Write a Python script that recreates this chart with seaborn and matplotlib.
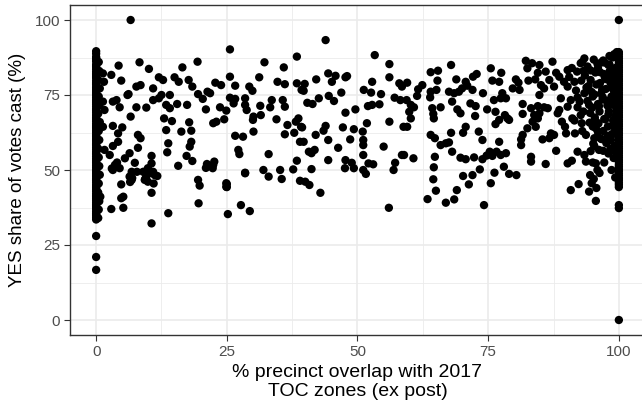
import matplotlib
matplotlib.use("Agg")
import matplotlib.pyplot as plt
import seaborn as sns
import pandas as pd
import numpy as np

# Precincts with partial overlap (% overlap, % YES)
overlap_mid = [
    6.6, 8.3, 4.3, 10.1, 2.9, 1.3, 4.8, 1.5, 12.0, 12.8, 15.0, 15.8, 16.5, 19.4, 17.7, 18.4,
    19.5, 8.5, 7.7, 10.9, 6.2, 6.0, 12.5, 14.1, 10.9, 12.0, 13.4, 15.5, 17.4, 3.2, 3.9, 4.5,
    1.3, 7.7, 9.6, 14.1, 6.6, 1.6, 13.0, 14.5, 17.8, 16.3, 13.4, 18.2, 3.2, 5.0, 1.3, 4.2,
    8.0, 8.5, 13.8, 18.2, 17.9, 13.6, 8.0, 4.2, 3.2, 1.6, 2.6, 6.4, 5.5, 10.6, 17.3, 18.4,
    15.7, 7.4, 3.6, 3.2, 4.5, 6.8, 9.0, 9.9, 10.6, 10.9, 9.6, 9.9, 11.2, 6.8, 6.4, 9.3,
    4.8, 10.6, 5.2, 4.8, 2.9, 5.2, 13.8, 19.5, 19.8, 19.6, 10.6, 25.2, 27.7, 29.4, 28.5,
    0.8, 3.0, 4.0, 6.5, 6.9, 7.8, 9.4, 10.2, 11.0, 11.7, 21.0, 22.4, 25.0, 25.0,
    25.6, 32.2, 38.4, 35.9, 25.6, 31.2, 34.7, 36.1, 38.4, 39.3, 22.8, 23.9, 26.6, 29.3, 29.9,
    21.3, 21.8, 20.4, 25.6, 26.6, 28.5, 26.3, 28.5, 33.6, 35.7, 33.3, 36.1, 31.4, 23.7, 24.9,
    21.0, 28.8, 30.1, 30.0, 31.5, 24.5, 23.0, 22.4, 34.5, 38.7, 38.2, 36.6, 39.2, 37.9, 36.1,
    30.1, 26.6, 28.1, 27.2, 27.4, 33.0, 39.0, 21.2, 22.6, 22.3, 28.5, 32.0, 33.0, 35.2, 35.5,
    38.4, 37.7, 39.0, 24.9, 24.9,
    43.9, 53.3, 56.1, 56.1, 58.0, 58.5, 52.8, 51.2, 52.6, 54.5, 57.1, 58.2, 39.9, 39.7, 42.1,
    44.4, 45.8, 45.1, 47.7, 48.0, 46.9, 42.6, 44.5, 45.5, 40.4, 41.4, 49.6, 47.7, 52.0, 52.8,
    54.2, 56.1, 51.8, 58.8, 39.4, 43.9, 43.5, 47.2, 49.3, 51.0, 42.0, 51.1, 51.1, 44.4, 48.6,
    39.7, 46.3, 41.8, 40.7, 41.2, 55.0, 51.1, 58.5, 44.4, 47.7, 48.9, 47.6, 49.3, 52.1, 53.0,
    51.1, 51.6, 57.2, 56.9, 41.2, 40.0, 40.8, 42.9, 56.0,
    67.9, 64.0, 65.4, 75.5, 77.5, 72.8, 72.1, 68.9, 65.3, 59.5, 62.4, 70.7, 71.0, 75.8, 77.1,
    61.6, 65.1, 64.0, 67.5, 68.5, 69.4, 70.0, 72.0, 74.0, 77.7, 63.9, 61.4, 68.1, 71.6, 72.6,
    76.1, 77.4, 74.8, 59.4, 60.2, 60.8, 59.9, 60.2, 59.5, 64.3, 65.9, 64.5, 64.6, 69.1, 69.7,
    72.5, 76.4, 77.1, 76.4, 78.2, 70.7, 70.2, 73.2, 73.9, 67.9, 64.0, 64.8, 65.9, 66.9, 67.5,
    77.1, 68.1, 58.9, 60.7, 64.8, 69.7, 70.7, 72.3, 74.7, 73.9, 75.3, 75.8, 76.6, 77.4, 78.0,
    64.6, 73.4, 76.2, 70.2, 72.0, 64.5, 71.3, 75.5, 65.0, 69.0, 63.4, 68.5, 66.9, 74.2,
    82.2, 83.4, 84.8, 87.3, 93.4, 92.7, 96.6, 82.5, 84.5, 86.0, 88.0, 88.6, 90.2, 92.0, 84.0,
    86.7, 89.5, 91.5, 80.3, 80.8, 82.7, 79.7, 81.0, 85.1, 85.7, 87.6, 90.2, 84.8, 78.4, 88.9,
    90.8, 92.1, 93.4, 81.6, 83.2, 84.5, 85.7, 86.4, 88.6, 90.2, 92.1, 94.3, 81.6, 83.8, 84.8,
    88.3, 91.1, 92.7, 79.0, 78.7, 83.5, 84.5, 89.1, 92.9, 82.5, 84.1, 89.7, 95.6, 87.0, 87.6,
    89.9, 91.6, 93.7, 81.6, 81.3, 85.4, 86.7, 95.3, 81.3, 95.3, 78.4, 88.0, 92.1, 93.4, 94.6,
    96.2, 83.2, 83.2, 86.0, 90.2, 91.0, 93.7, 95.6, 79.0, 80.4, 94.5, 94.8, 92.3, 90.8, 94.3,
    95.6, 95.7, 95.2, 95.9, 95.0, 96.3,
    93.0, 94.0, 95.2, 96.0, 97.0, 98.0, 98.8, 99.3, 93.5, 94.6, 95.5, 96.4, 97.3, 98.2, 99.0,
    99.5, 93.8, 94.8, 95.7, 96.6, 97.5, 98.4, 99.1, 99.6, 94.0, 95.0, 96.0, 96.9, 97.8, 98.6,
    99.2, 99.6, 94.5, 95.4, 96.3, 97.2, 98.0, 98.9, 99.4, 95.0, 96.1, 97.0, 97.9, 98.7, 99.3,
    96.5, 97.6, 98.5, 99.2, 98.0, 99.0, 97.2, 98.6, 99.3, 92.8, 93.2, 91.0, 90.5, 91.8, 92.5,
    93.2, 91.5, 93.0,
    94.6, 95.9, 97.1, 98.3, 99.5, 94.2, 96.8, 98.9, 95.3, 97.7, 99.1, 94.9, 96.2, 98.1, 99.4,
    95.6, 97.4, 98.8, 96.0, 97.9, 99.2, 94.4, 96.7, 98.4, 95.1, 97.0, 99.0, 96.4, 98.2, 99.6,
    97.5, 98.7, 99.3, 96.9, 98.5, 99.5, 97.3, 98.9, 99.7, 98.2, 99.1, 99.6,
]
yes_mid = [
    100.0, 85.9, 84.8, 83.7, 81.7, 82.2, 79.8, 79.4, 80.9, 80.0, 80.9, 79.4, 84.2, 86.1, 80.0, 77.8,
    75.3, 78.3, 77.8, 77.2, 75.3, 75.0, 75.0, 75.0, 73.3, 73.9, 71.7, 72.0, 71.7, 72.8, 73.3, 70.9,
    72.8, 70.9, 70.8, 70.6, 67.8, 70.0, 67.2, 66.3, 65.9, 62.8, 63.3, 63.1, 64.7, 64.2, 64.4, 62.2,
    61.7, 60.6, 58.9, 59.4, 57.8, 55.9, 57.4, 59.4, 58.0, 56.7, 55.0, 55.6, 53.9, 54.7, 54.7, 53.0,
    51.4, 52.4, 51.7, 50.0, 50.6, 49.4, 49.4, 50.6, 52.2, 49.4, 47.8, 46.1, 48.3, 46.7, 47.8, 46.7,
    45.2, 42.4, 41.1, 40.6, 37.0, 37.4, 35.6, 46.7, 44.8, 38.9, 32.2, 35.3, 38.3, 36.3, 48.9,
    41.1, 50.5, 52.5, 46.0, 47.3, 49.4, 47.0, 49.0, 45.5, 48.0, 50.7, 51.7, 44.3, 45.3,
    90.2, 85.9, 87.8, 84.2, 81.1, 80.9, 79.4, 78.6, 78.9, 76.7, 79.1, 78.3, 78.1, 77.8, 76.4,
    76.1, 75.6, 73.7, 74.1, 73.7, 73.9, 72.2, 71.7, 73.3, 73.3, 70.9, 71.1, 71.4, 70.9, 69.8,
    70.2, 70.0, 67.8, 66.7, 68.3, 66.9, 66.1, 65.6, 66.9, 67.2, 66.1, 65.0, 64.4, 62.4, 61.9,
    62.8, 61.4, 61.1, 56.7, 55.3, 55.3, 59.4, 52.0, 52.8, 50.6, 49.1, 50.0, 47.8, 50.0, 47.0,
    53.1, 50.2, 46.4, 45.6, 44.4,
    93.3, 88.3, 85.3, 80.9, 78.9, 77.8, 79.4, 76.7, 75.8, 75.3, 74.1, 73.3, 78.7, 76.4, 80.2,
    82.2, 81.4, 79.4, 80.9, 81.3, 75.8, 73.9, 74.7, 73.0, 72.4, 72.0, 70.2, 69.1, 71.3, 71.7,
    71.9, 66.1, 65.6, 64.4, 64.2, 64.7, 63.1, 64.2, 63.6, 62.8, 61.7, 60.0, 58.3, 60.0, 60.2,
    59.4, 57.4, 56.7, 56.1, 55.6, 57.8, 55.0, 55.0, 53.3, 53.3, 52.4, 50.6, 50.6, 52.2, 51.9,
    50.0, 48.7, 52.4, 50.0, 50.3, 46.1, 45.0, 42.4, 37.4,
    85.0, 82.6, 83.1, 83.9, 82.4, 82.0, 81.1, 80.2, 79.8, 79.1, 78.3, 79.4, 78.1, 79.8, 79.4,
    76.9, 76.7, 76.1, 76.1, 75.6, 76.1, 77.2, 76.7, 75.6, 75.6, 74.2, 74.7, 72.8, 72.2, 71.3,
    73.3, 73.9, 70.2, 73.3, 71.7, 70.9, 69.4, 67.2, 64.4, 70.6, 70.9, 68.7, 67.2, 70.2, 68.9,
    68.0, 69.4, 66.7, 65.3, 68.3, 64.4, 62.4, 62.8, 60.0, 62.4, 61.7, 60.6, 58.3, 58.9, 59.2,
    59.4, 56.1, 55.0, 53.9, 54.4, 54.1, 53.6, 54.2, 54.8, 53.6, 56.1, 54.7, 56.1, 55.0, 51.1,
    50.9, 50.2, 49.1, 48.0, 48.3, 46.9, 45.2, 45.6, 43.1, 43.3, 40.3, 40.2, 39.1, 38.3,
    86.4, 85.6, 85.0, 86.1, 87.2, 85.6, 85.8, 83.9, 82.4, 82.8, 82.4, 81.1, 83.3, 82.8, 80.2,
    80.0, 79.4, 79.4, 80.2, 79.1, 79.8, 77.2, 76.7, 78.3, 77.2, 77.8, 77.8, 75.0, 73.9, 73.9,
    73.3, 74.2, 75.6, 72.0, 70.6, 71.3, 70.9, 70.6, 70.0, 71.1, 70.9, 71.7, 68.7, 68.3, 68.9,
    68.9, 67.2, 68.3, 66.7, 67.2, 66.1, 67.2, 66.1, 65.6, 63.9, 64.4, 64.4, 63.9, 62.2, 61.7,
    62.2, 62.2, 61.7, 61.7, 60.2, 60.2, 60.6, 60.6, 58.3, 58.0, 55.6, 56.4, 56.1, 55.0, 56.3,
    56.7, 54.4, 52.8, 52.0, 52.2, 53.1, 52.8, 52.2, 48.7, 48.3, 48.3, 45.6, 45.3, 43.3, 42.8,
    39.7, 44.0, 47.0, 50.0, 52.5, 49.0,
    86.0, 84.5, 86.8, 84.0, 86.5, 85.0, 87.5, 84.0, 81.5, 80.0, 82.5, 79.0, 81.0, 82.8, 80.5,
    78.5, 77.5, 76.0, 78.5, 75.5, 77.0, 79.0, 76.5, 74.0, 73.0, 74.5, 72.0, 73.5, 71.5, 74.5,
    72.5, 70.0, 69.0, 67.5, 69.5, 67.0, 68.5, 66.5, 68.0, 64.5, 65.5, 63.0, 64.5, 62.0, 63.5,
    60.5, 59.0, 60.0, 58.0, 55.5, 54.0, 52.5, 50.0, 47.5, 79.8, 83.0, 84.0, 81.0, 76.5, 72.8,
    69.5, 66.5, 63.0,
    83.2, 85.4, 82.0, 80.7, 83.6, 78.0, 76.8, 78.6, 75.2, 73.1, 76.2, 70.8, 71.3, 69.6, 71.1,
    66.2, 66.9, 64.8, 62.6, 61.4, 62.1, 65.8, 60.3, 57.2, 58.8, 56.4, 56.6, 82.6, 85.2, 83.0,
    80.3, 77.3, 81.4, 74.3, 72.0, 68.9, 85.8, 78.2, 75.8, 88.0, 88.6, 89.3,
]
# Precincts with no overlap (0 %)
yes_at_0 = [
    89.6, 88.8, 87.7, 86.9, 86.2, 85.1, 84.4, 83.6, 82.8, 82.1, 81.3, 80.7, 79.8, 79.1, 78.5,
    77.6, 77.0, 76.3, 75.4, 74.8, 74.1, 73.3, 72.6, 71.9, 71.2, 70.4, 69.8, 69.1, 68.3, 67.5,
    66.9, 66.2, 65.4, 64.7, 64.0, 63.2, 62.6, 61.8, 61.1, 60.3, 59.7, 58.9, 58.2, 57.4, 56.8,
    56.0, 55.3, 54.5, 53.8, 53.1, 52.4, 51.6, 50.9, 50.2, 49.4, 48.7, 48.0, 47.2, 46.5, 45.8,
    45.0, 44.3, 43.6, 42.9, 42.1, 41.4, 40.6, 39.9, 39.2, 38.5, 37.7, 37.0, 36.2, 35.5, 34.8,
    34.1, 33.5, 28.0, 21.0, 16.7,
    87.3, 84.8, 81.9, 78.8, 75.9, 73.0, 70.1, 67.2, 64.3, 61.4, 58.5, 55.6, 52.7, 49.8, 46.9,
    44.0, 41.1, 38.2, 35.3,
]
overlap_near_0 = [
    0.5, 0.6, 0.4, 0.7, 0.5, 0.6, 0.4, 0.7, 0.5, 0.6, 0.4, 0.5, 0.6, 0.7, 0.5, 0.4, 0.6, 0.5, 0.4,
]
yes_near_0 = [
    86.0, 83.0, 80.0, 77.2, 74.5, 71.6, 68.8, 66.0, 63.0, 60.0, 57.1, 54.2, 51.3, 48.4, 45.5,
    42.5, 39.6, 36.8, 34.0,
]
# Precincts fully inside TOC zones (100 %)
yes_at_100 = [
    100.0, 89.3, 88.6, 87.8, 87.1, 86.3, 85.6, 84.8, 84.1, 83.3, 82.6, 81.8, 81.1, 80.3, 79.6,
    78.8, 78.1, 77.3, 76.6, 75.8, 75.1, 74.3, 73.6, 72.8, 72.1, 71.3, 70.6, 69.8, 69.1, 68.3,
    67.6, 66.8, 66.1, 65.3, 64.6, 63.8, 63.1, 62.3, 61.6, 60.8, 60.1, 59.3, 58.6, 57.8, 57.1,
    56.3, 55.6, 54.8, 54.1, 53.3, 52.6, 51.8, 51.1, 50.3, 49.6, 48.8, 48.1, 47.3, 46.6, 45.8,
    45.1, 44.3, 38.3, 37.3, 0.0,
]

x_all = overlap_mid + [0.0] * len(yes_at_0) + overlap_near_0 + [100.0] * len(yes_at_100)
y_all = yes_mid + yes_at_0 + yes_near_0 + yes_at_100
df = pd.DataFrame({"overlap": x_all, "yes": y_all})

sns.set_theme(style="white")
plt.rcParams["font.family"] = ["Liberation Sans", "DejaVu Sans"]

fig = plt.figure(figsize=(6.42, 4.05), dpi=100)
ax = fig.add_axes([70 / 642, 70 / 405, 575 / 642, 330 / 405])

# grid
for v in [12.5, 37.5, 62.5, 87.5]:
    ax.axvline(v, color="#EBEBEB", lw=0.6, zorder=0)
    ax.axhline(v, color="#EBEBEB", lw=0.6, zorder=0)
for v in [0, 25, 50, 75, 100]:
    ax.axvline(v, color="#EBEBEB", lw=1.2, zorder=0)
    ax.axhline(v, color="#EBEBEB", lw=1.2, zorder=0)

sns.scatterplot(data=df, x="overlap", y="yes", color="black", s=36,
                linewidth=0, edgecolor="none", ax=ax, zorder=3)

ax.set_xlim(-5, 105)
ax.set_ylim(-5, 105)
ax.set_xticks([0, 25, 50, 75, 100])
ax.set_yticks([0, 25, 50, 75, 100])
ax.tick_params(axis="both", length=4, width=0.8, color="#333333",
               labelsize=11, labelcolor="#4D4D4D", pad=3, direction="out",
               bottom=True, left=True)
for sp in ax.spines.values():
    sp.set_color("#333333")
    sp.set_linewidth(1.0)
    sp.set_visible(True)

ax.set_xlabel("% precinct overlap with 2017\nTOC zones (ex post)", fontsize=14,
              color="black", labelpad=4, linespacing=1.1)
ax.set_ylabel("YES share of votes cast (%)", fontsize=13.5, color="black", labelpad=6)

fig.savefig("out.png", dpi=100)
